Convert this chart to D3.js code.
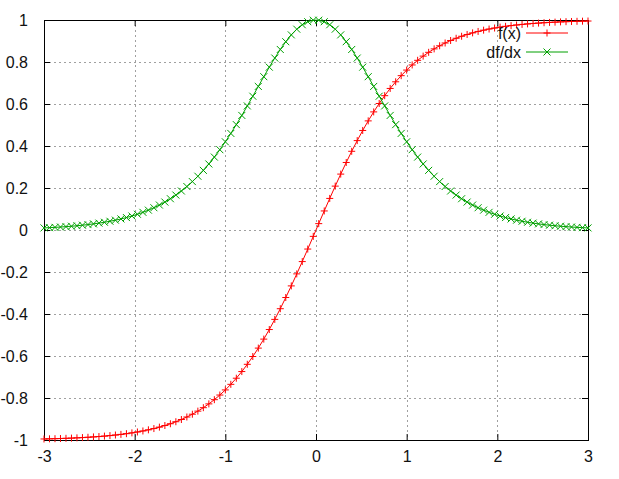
<!DOCTYPE html>
<html>
<head>
<meta charset="utf-8">
<script src="https://cdn.jsdelivr.net/npm/d3@7"></script>
<style>
  html, body { margin: 0; padding: 0; background: #fff; }
  svg { display: block; }
  text { font-family: "Liberation Sans", Arial, sans-serif; font-size: 16px; fill: #111; }
</style>
</head>
<body>
<svg id="chart" width="619" height="479"></svg>
<script>
// ---- data (100 samples from -3 to 3) ----
const xPos = [0.0303, 0.0909, 0.1515, 0.2121, 0.2727, 0.3333, 0.3939, 0.4545, 0.5152, 0.5758,
  0.6364, 0.6970, 0.7576, 0.8182, 0.8788, 0.9394, 1.0000, 1.0606, 1.1212, 1.1818,
  1.2424, 1.3030, 1.3636, 1.4242, 1.4848, 1.5455, 1.6061, 1.6667, 1.7273, 1.7879,
  1.8485, 1.9091, 1.9697, 2.0303, 2.0909, 2.1515, 2.2121, 2.2727, 2.3333, 2.3939,
  2.4545, 2.5152, 2.5758, 2.6364, 2.6970, 2.7576, 2.8182, 2.8788, 2.9394, 3.0000];
const xNeg = [-3.0000, -2.9394, -2.8788, -2.8182, -2.7576, -2.6970, -2.6364, -2.5758, -2.5152, -2.4545,
  -2.3939, -2.3333, -2.2727, -2.2121, -2.1515, -2.0909, -2.0303, -1.9697, -1.9091, -1.8485,
  -1.7879, -1.7273, -1.6667, -1.6061, -1.5455, -1.4848, -1.4242, -1.3636, -1.3030, -1.2424,
  -1.1818, -1.1212, -1.0606, -1.0000, -0.9394, -0.8788, -0.8182, -0.7576, -0.6970, -0.6364,
  -0.5758, -0.5152, -0.4545, -0.3939, -0.3333, -0.2727, -0.2121, -0.1515, -0.0909, -0.0303];
const xValues = xNeg.concat(xPos);

const fNeg = [-0.9951, -0.9944, -0.9937, -0.9929, -0.9920, -0.9910, -0.9898, -0.9885, -0.9870, -0.9853,
  -0.9835, -0.9814, -0.9790, -0.9763, -0.9733, -0.9699, -0.9661, -0.9618, -0.9570, -0.9516,
  -0.9455, -0.9387, -0.9311, -0.9226, -0.9130, -0.9024, -0.8905, -0.8772, -0.8625, -0.8461,
  -0.8280, -0.8080, -0.7859, -0.7616, -0.7349, -0.7058, -0.6741, -0.6396, -0.6024, -0.5624,
  -0.5196, -0.4740, -0.4256, -0.3748, -0.3215, -0.2662, -0.2090, -0.1504, -0.0907, -0.0303];
const fPos = [0.0303, 0.0907, 0.1504, 0.2090, 0.2662, 0.3215, 0.3748, 0.4256, 0.4740, 0.5196,
  0.5624, 0.6024, 0.6396, 0.6741, 0.7058, 0.7349, 0.7616, 0.7859, 0.8080, 0.8280,
  0.8461, 0.8625, 0.8772, 0.8905, 0.9024, 0.9130, 0.9226, 0.9311, 0.9387, 0.9455,
  0.9516, 0.9570, 0.9618, 0.9661, 0.9699, 0.9733, 0.9763, 0.9790, 0.9814, 0.9835,
  0.9853, 0.9870, 0.9885, 0.9898, 0.9910, 0.9920, 0.9929, 0.9937, 0.9944, 0.9951];
const fValues = fNeg.concat(fPos);

const dNeg = [0.0099, 0.0111, 0.0126, 0.0142, 0.0160, 0.0180, 0.0203, 0.0229, 0.0258, 0.0291,
  0.0328, 0.0369, 0.0416, 0.0468, 0.0527, 0.0593, 0.0666, 0.0749, 0.0841, 0.0945,
  0.1060, 0.1188, 0.1330, 0.1489, 0.1664, 0.1857, 0.2070, 0.2305, 0.2561, 0.2840,
  0.3144, 0.3472, 0.3824, 0.4200, 0.4599, 0.5018, 0.5456, 0.5909, 0.6371, 0.6837,
  0.7300, 0.7754, 0.8188, 0.8596, 0.8966, 0.9292, 0.9563, 0.9774, 0.9918, 0.9991];
const dPos = [0.9991, 0.9918, 0.9774, 0.9563, 0.9292, 0.8966, 0.8596, 0.8188, 0.7754, 0.7300,
  0.6837, 0.6371, 0.5909, 0.5456, 0.5018, 0.4599, 0.4200, 0.3824, 0.3472, 0.3144,
  0.2840, 0.2561, 0.2305, 0.2070, 0.1857, 0.1664, 0.1489, 0.1330, 0.1188, 0.1060,
  0.0945, 0.0841, 0.0749, 0.0666, 0.0593, 0.0527, 0.0468, 0.0416, 0.0369, 0.0328,
  0.0291, 0.0258, 0.0229, 0.0203, 0.0180, 0.0160, 0.0142, 0.0126, 0.0111, 0.0099];
const dValues = dNeg.concat(dPos);

const xTicks = [-3, -2, -1, 0, 1, 2, 3];
const xTickLabels = ["-3", "-2", "-1", "0", "1", "2", "3"];
const yTicks = [-1, -0.8, -0.6, -0.4, -0.2, 0, 0.2, 0.4, 0.6, 0.8, 1];
const yTickLabels = ["-1", "-0.8", "-0.6", "-0.4", "-0.2", "0", "0.2", "0.4", "0.6", "0.8", "1"];
const seriesNames = ["f(x)", "df/dx"];
const seriesColors = ["#ff0000", "#00a000"];

// ---- layout ----
const L = 44, R = 588, T = 20, B = 440;
const svg = d3.select("#chart");
const x = d3.scaleLinear().domain([-3, 3]).range([L, R]);
const y = d3.scaleLinear().domain([-1, 1]).range([B, T]);

// grid
const grid = svg.append("g").attr("stroke", "#a0a0a0").attr("stroke-width", 1)
  .attr("stroke-dasharray", "2,3").attr("shape-rendering", "crispEdges");
grid.selectAll("line.gx").data(xTicks.slice(1, -1)).enter().append("line")
  .attr("x1", d => Math.round(x(d)) + 0.5).attr("x2", d => Math.round(x(d)) + 0.5)
  .attr("y1", T).attr("y2", B);
grid.selectAll("line.gy").data(yTicks.slice(1, -1)).enter().append("line")
  .attr("y1", d => Math.round(y(d)) + 0.5).attr("y2", d => Math.round(y(d)) + 0.5)
  .attr("x1", L).attr("x2", R);

// axes via d3 (bottom & left with labels), mirror ticks
const xAxis = d3.axisBottom(x).tickValues(xTicks).tickFormat((d, i) => xTickLabels[i])
  .tickSizeInner(-6).tickSizeOuter(0).tickPadding(11);
const yAxis = d3.axisLeft(y).tickValues(yTicks).tickFormat((d, i) => yTickLabels[i])
  .tickSizeInner(-6).tickSizeOuter(0).tickPadding(16);
const gx = svg.append("g").attr("transform", `translate(0,${B})`).call(xAxis);
const gy = svg.append("g").attr("transform", `translate(${L},0)`).call(yAxis);
[gx, gy].forEach(g => {
  g.select(".domain").remove();
  g.selectAll(".tick line").attr("stroke", "#000");
  g.selectAll(".tick text").attr("fill", "#111")
    .style("font-family", "'Liberation Sans', Arial, sans-serif").style("font-size", "16px");
});
const gxTop = svg.append("g").attr("transform", `translate(0,${T})`)
  .call(d3.axisTop(x).tickValues(xTicks).tickSizeInner(-6).tickSizeOuter(0).tickFormat(""));
const gyRight = svg.append("g").attr("transform", `translate(${R},0)`)
  .call(d3.axisRight(y).tickValues(yTicks).tickSizeInner(-6).tickSizeOuter(0).tickFormat(""));
[gxTop, gyRight].forEach(g => { g.select(".domain").remove(); g.selectAll(".tick line").attr("stroke", "#000"); });

// border
svg.append("rect").attr("x", L + 0.5).attr("y", T + 0.5).attr("width", R - L).attr("height", B - T)
  .attr("fill", "none").attr("stroke", "#000").attr("stroke-width", 1);

// series
const series = [fValues, dValues];
const line = d3.line().x((d, i) => x(xValues[i])).y(d => y(d));
const plot = svg.append("g");
const ms = 3.5;
series.forEach((vals, si) => {
  const c = seriesColors[si];
  plot.append("path").datum(vals).attr("d", line).attr("fill", "none")
    .attr("stroke", c).attr("stroke-width", 1);
  const pts = plot.append("g").attr("stroke", c).attr("stroke-width", 1);
  vals.forEach((v, i) => {
    const px = x(xValues[i]), py = y(v);
    if (si === 0) {
      pts.append("path").attr("d", `M${px - ms},${py}H${px + ms}M${px},${py - ms}V${py + ms}`);
    } else {
      pts.append("path").attr("d", `M${px - ms},${py - ms}L${px + ms},${py + ms}M${px - ms},${py + ms}L${px + ms},${py - ms}`);
    }
  });
});

// legend
const legY = [33, 52];
seriesNames.forEach((name, si) => {
  const c = seriesColors[si];
  svg.append("text").attr("x", 521).attr("y", legY[si] + 6).attr("text-anchor", "end").text(name);
  svg.append("line").attr("x1", 526).attr("x2", 568).attr("y1", legY[si]).attr("y2", legY[si])
    .attr("stroke", c).attr("stroke-width", 1);
  const mx = 547, my = legY[si];
  const d = si === 0
    ? `M${mx - ms},${my}H${mx + ms}M${mx},${my - ms}V${my + ms}`
    : `M${mx - ms},${my - ms}L${mx + ms},${my + ms}M${mx - ms},${my + ms}L${mx + ms},${my - ms}`;
  svg.append("path").attr("d", d).attr("stroke", c).attr("stroke-width", 1);
});
</script>
</body>
</html>
